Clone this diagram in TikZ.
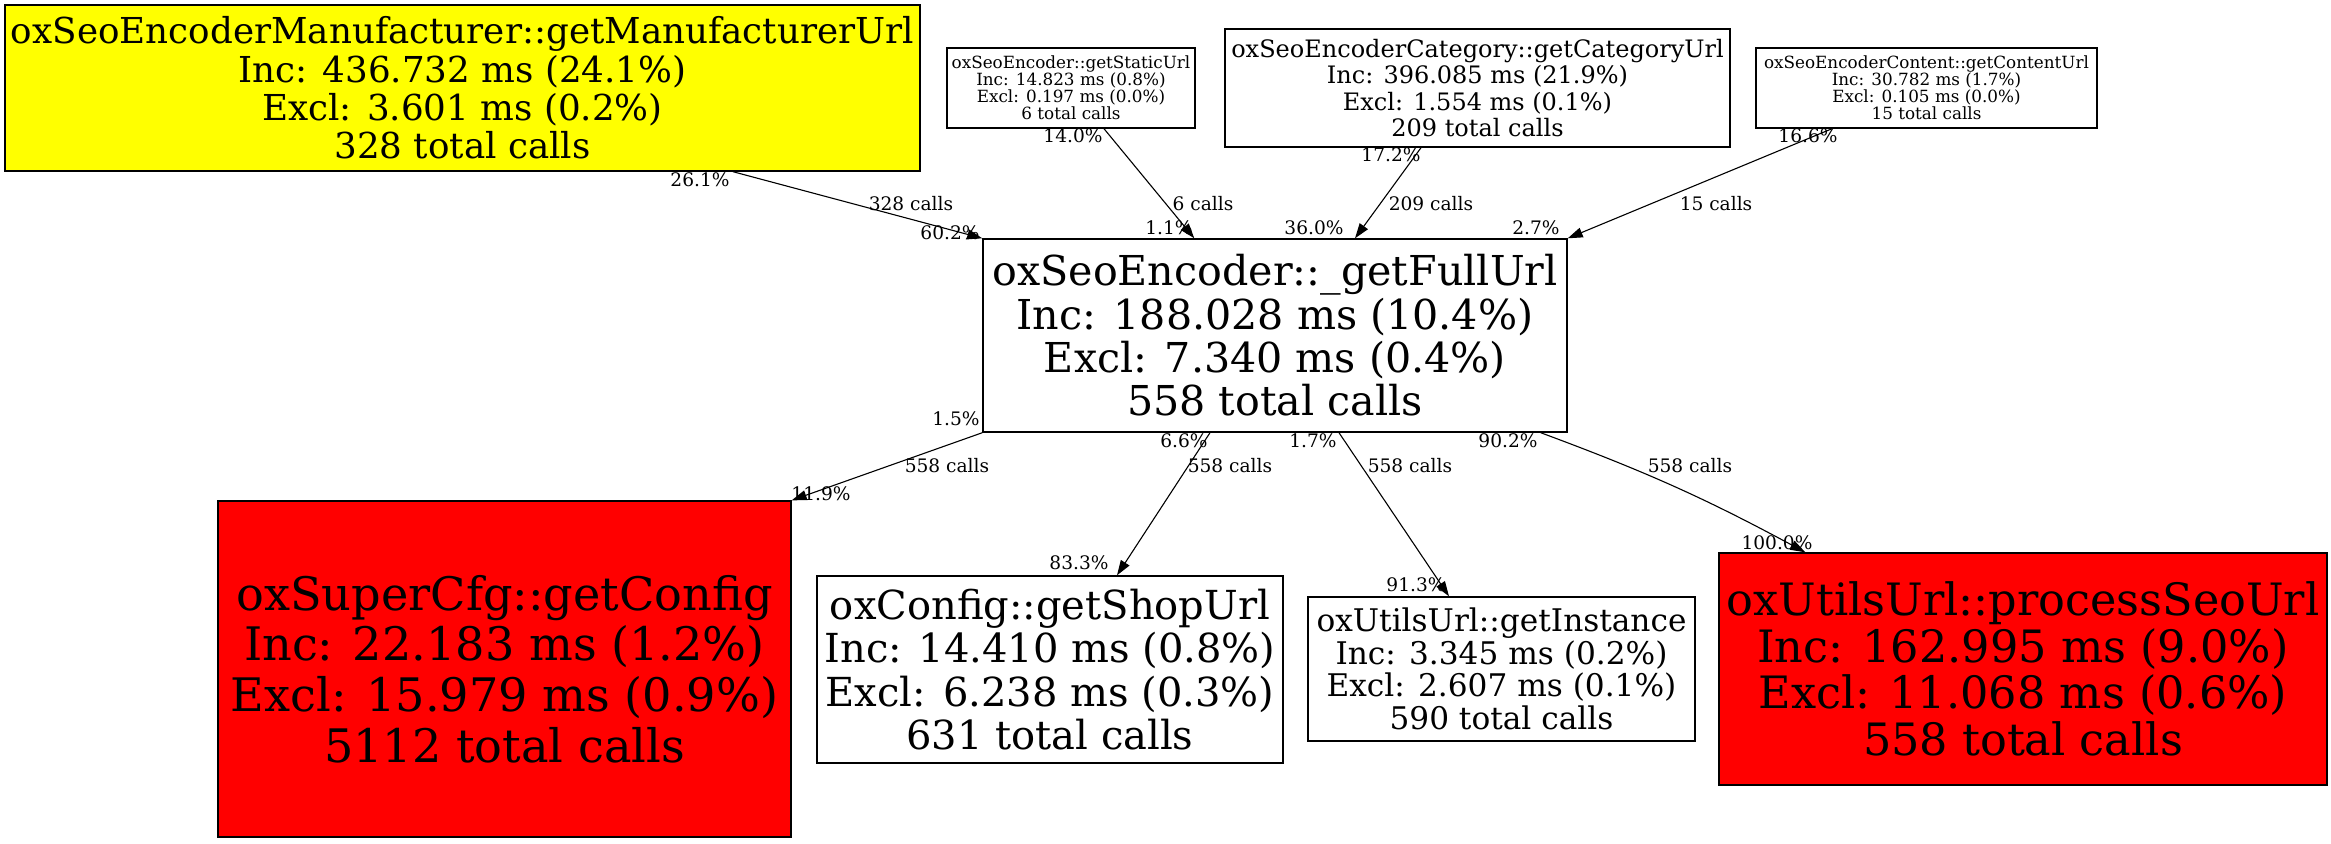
\documentclass[tikz,border=0pt]{standalone}
\usepackage{fontspec}
\setmainfont{DejaVu Serif}
\usepackage{tikz}
\usetikzlibrary{arrows.meta}
\definecolor{callyellow}{RGB}{255, 255, 0}
\definecolor{callred}{RGB}{255, 0, 0}
\tikzset{
    callbox/.style 2 args={draw=black, line width=0.7pt, align=center, inner sep=0pt, font=\fontsize{#1}{#2}\selectfont},
    warmbox/.style={fill=callyellow},
    hotbox/.style={fill=callred},
    callarrow/.style={line width=0.55pt, -{Triangle[length=7.5pt,width=5pt]}},
    pctlabel/.style={font=\fontsize{9.3}{11}\selectfont, inner sep=0pt}
}

\begin{document}
\begin{tikzpicture}[x=0.5pt, y=-0.5pt]
    \useasboundingbox (0,0) rectangle (2331,843);
    % callers
    \node[callbox={17.85}{19.15}, warmbox, minimum width=457.5pt, minimum height=83pt] (mfr) at (462.5,88)
        {oxSeoEncoderManufacturer::getManufacturerUrl\\Inc: 436.732 ms (24.1\%)\\Excl: 3.601 ms (0.2\%)\\328 total calls};
    \node[callbox={8.4}{8.5}, minimum width=124pt, minimum height=40pt] (static) at (1071,88)
        {oxSeoEncoder::getStaticUrl\\Inc: 14.823 ms (0.8\%)\\Excl: 0.197 ms (0.0\%)\\6 total calls};
    \node[callbox={12}{13.15}, minimum width=252.5pt, minimum height=59pt] (category) at (1477.5,88)
        {oxSeoEncoderCategory::getCategoryUrl\\Inc: 396.085 ms (21.9\%)\\Excl: 1.554 ms (0.1\%)\\209 total calls};
    \node[callbox={8.4}{8.5}, minimum width=170.5pt, minimum height=40pt] (content) at (1926.5,88)
        {oxSeoEncoderContent::getContentUrl\\Inc: 30.782 ms (1.7\%)\\Excl: 0.105 ms (0.0\%)\\15 total calls};
    % the function itself
    \node[callbox={20.6}{21.65}, minimum width=292pt, minimum height=96.5pt] (full) at (1275,335.5)
        {oxSeoEncoder::\_getFullUrl\\Inc: 188.028 ms (10.4\%)\\Excl: 7.340 ms (0.4\%)\\558 total calls};
    % callees
    \node[callbox={23.1}{25.3}, hotbox, minimum width=286.5pt, minimum height=168pt] (config) at (504.5,669)
        {oxSuperCfg::getConfig\\Inc: 22.183 ms (1.2\%)\\Excl: 15.979 ms (0.9\%)\\5112 total calls};
    \node[callbox={20}{21.65}, minimum width=233pt, minimum height=93.5pt] (shop) at (1050,669.5)
        {oxConfig::getShopUrl\\Inc: 14.410 ms (0.8\%)\\Excl: 6.238 ms (0.3\%)\\631 total calls};
    \node[callbox={15.6}{16.35}, minimum width=193.5pt, minimum height=72pt] (instance) at (1501.5,669)
        {oxUtilsUrl::getInstance\\Inc: 3.345 ms (0.2\%)\\Excl: 2.607 ms (0.1\%)\\590 total calls};
    \node[callbox={22.3}{23.35}, hotbox, minimum width=304pt, minimum height=116pt] (seo) at (2023,669)
        {oxUtilsUrl::processSeoUrl\\Inc: 162.995 ms (9.0\%)\\Excl: 11.068 ms (0.6\%)\\558 total calls};

    % incoming calls
    \draw[callarrow] ([xshift=135.25pt]mfr.south) -- (full.north west)
        node[pctlabel] at (700,180) {26.1\%}
        node[pctlabel] at (911,204) {328 calls}
        node[pctlabel] at (950,233) {60.2\%};
    \draw[callarrow] ([xshift=16.5pt]static.south) -- ([xshift=106pt]full.north west)
        node[pctlabel] at (1073,136) {14.0\%}
        node[pctlabel] at (1203,204) {6 calls}
        node[pctlabel] at (1169,228) {1.1\%};
    \draw[callarrow] ([xshift=-28.25pt]category.south) -- ([xshift=40pt]full.north)
        node[pctlabel] at (1391,155) {17.2\%}
        node[pctlabel] at (1431,204) {209 calls}
        node[pctlabel] at (1314,228) {36.0\%};
    \draw[callarrow] ([xshift=-47.25pt]content.south) -- (full.north east)
        node[pctlabel] at (1808,136) {16.6\%}
        node[pctlabel] at (1716,204) {15 calls}
        node[pctlabel] at (1536,228) {2.7\%};

    % outgoing calls
    \draw[callarrow] (full.south west) -- (config.north east)
        node[pctlabel] at (956,419) {1.5\%}
        node[pctlabel] at (947,466) {558 calls}
        node[pctlabel] at (821,494) {11.9\%};
    \draw[callarrow] ([xshift=-32.5pt]full.south) -- ([xshift=33.5pt]shop.north)
        node[pctlabel] at (1184,441) {6.6\%}
        node[pctlabel] at (1230,466) {558 calls}
        node[pctlabel] at (1079,563) {83.3\%};
    \draw[callarrow] ([xshift=32pt]full.south) -- ([xshift=-26.25pt]instance.north)
        node[pctlabel] at (1313,441) {1.7\%}
        node[pctlabel] at (1410,466) {558 calls}
        node[pctlabel] at (1416,585) {91.3\%};
    \draw[callarrow] ([xshift=-13.5pt]full.south east) to[bend left=4] ([xshift=43.5pt]seo.north west)
        node[pctlabel] at (1508,441) {90.2\%}
        node[pctlabel] at (1690,466) {558 calls}
        node[pctlabel] at (1777,543) {100.0\%};
\end{tikzpicture}
\end{document}
